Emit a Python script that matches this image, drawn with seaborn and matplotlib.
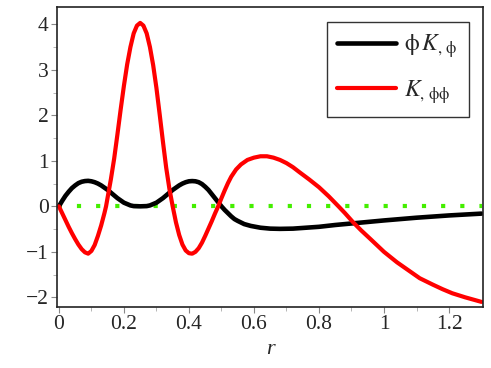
import numpy as np
import pandas as pd
import seaborn as sns
import matplotlib.pyplot as plt

# values
r_black = [0.0, 0.01, 0.02, 0.03, 0.04, 0.05, 0.06, 0.07, 0.08, 0.09, 0.10, 0.11,
           0.12, 0.13, 0.14, 0.15, 0.16, 0.17, 0.18, 0.19, 0.20, 0.21, 0.22, 0.23,
           0.25, 0.27, 0.28, 0.29, 0.30, 0.31, 0.32, 0.33, 0.34, 0.35, 0.36, 0.37,
           0.38, 0.39, 0.40, 0.41, 0.42, 0.43, 0.44, 0.45, 0.46, 0.47, 0.48, 0.49,
           0.50, 0.51, 0.52, 0.53, 0.54, 0.55, 0.57, 0.59, 0.62, 0.65, 0.68, 0.72,
           0.76, 0.80, 0.85, 0.91, 1.0, 1.1, 1.2, 1.3]
phi_k_phi = [0.0, 0.12, 0.23, 0.32, 0.40, 0.46, 0.51, 0.54, 0.555, 0.56, 0.55, 0.53,
             0.50, 0.46, 0.41, 0.36, 0.30, 0.24, 0.18, 0.13, 0.08, 0.05, 0.02, 0.005,
             0.0, 0.005, 0.02, 0.05, 0.08, 0.13, 0.18, 0.24, 0.30, 0.36, 0.41, 0.46,
             0.50, 0.53, 0.55, 0.555, 0.55, 0.53, 0.49, 0.43, 0.36, 0.27, 0.18, 0.09,
             0.0, -0.08, -0.15, -0.22, -0.28, -0.32, -0.39, -0.43, -0.47, -0.49, -0.495, -0.49,
             -0.47, -0.45, -0.41, -0.37, -0.31, -0.25, -0.20, -0.16]

r_red = [0.0, 0.01, 0.02, 0.03, 0.04, 0.05, 0.06, 0.07, 0.08, 0.09, 0.10, 0.11,
         0.12, 0.13, 0.14, 0.145, 0.15, 0.16, 0.17, 0.18, 0.19, 0.20, 0.21, 0.22,
         0.23, 0.24, 0.25, 0.26, 0.27, 0.28, 0.29, 0.30, 0.31, 0.32, 0.33, 0.34,
         0.35, 0.36, 0.37, 0.38, 0.39, 0.40, 0.41, 0.42, 0.43, 0.44, 0.45, 0.46,
         0.47, 0.48, 0.49, 0.50, 0.51, 0.52, 0.53, 0.545, 0.56, 0.58, 0.60, 0.62,
         0.64, 0.66, 0.68, 0.70, 0.72, 0.74, 0.77, 0.80, 0.83, 0.86, 0.88, 0.905,
         0.93, 0.96, 1.0, 1.04, 1.08, 1.11, 1.15, 1.18, 1.21, 1.25, 1.3]
k_phiphi = [0.0, -0.15, -0.30, -0.45, -0.59, -0.72, -0.84, -0.94, -1.01, -1.04, -0.98, -0.85,
            -0.65, -0.42, -0.15, 0.0, 0.2, 0.6, 1.05, 1.58, 2.13, 2.65, 3.12, 3.5,
            3.8, 3.97, 4.03, 3.97, 3.8, 3.5, 3.1, 2.6, 2.02, 1.42, 0.85, 0.38,
            0.0, -0.35, -0.63, -0.84, -0.97, -1.03, -1.04, -1.0, -0.92, -0.8, -0.65, -0.49,
            -0.33, -0.16, 0.0, 0.18, 0.35, 0.51, 0.65, 0.81, 0.92, 1.02, 1.07, 1.1,
            1.1, 1.07, 1.02, 0.95, 0.86, 0.75, 0.59, 0.42, 0.22, 0.0, -0.15, -0.35,
            -0.53, -0.73, -1.0, -1.23, -1.43, -1.58, -1.72, -1.82, -1.91, -2.0, -2.1]

r_zero = [0.0, 1.3]
zero_line = [0.0, 0.0]

sns.set_style('ticks')
plt.rcParams['font.family'] = ['Liberation Serif', 'DejaVu Serif']
plt.rcParams['mathtext.fontset'] = 'stix'

fig = plt.figure(figsize=(4.91, 3.68), dpi=100)
ax = fig.add_axes([0.116, 0.166, 0.868, 0.815])

sns.lineplot(x=r_zero, y=zero_line, ax=ax, color='#44ee00', linewidth=3,
             linestyle=(0.3, (1, 3.6)), dash_capstyle='butt')
sns.lineplot(x=r_black, y=phi_k_phi, ax=ax, color='black', linewidth=3.3,
             label=r'$\mathrm{\phi}\,K_{,\,\mathrm{\phi}}$')
sns.lineplot(x=r_red, y=k_phiphi, ax=ax, color='red', linewidth=3,
             label=r'$K_{,\,\mathrm{\phi\phi}}$')

ax.set_xlim(-0.006, 1.305)
ax.set_ylim(-2.21, 4.38)
ax.set_xticks([0, 0.2, 0.4, 0.6, 0.8, 1.0, 1.2])
ax.set_xticklabels(['0', '0.2', '0.4', '0.6', '0.8', '1', '1.2'])
ax.set_xticks(np.arange(0.1, 1.3, 0.2), minor=True)
ax.set_yticks([-2, -1, 0, 1, 2, 3, 4])
ax.set_yticklabels(['\u22122', '\u22121', '0', '1', '2', '3', '4'])
ax.set_yticks(np.arange(-1.5, 4.0, 1.0), minor=True)
ax.tick_params(which='major', length=4, width=0.8, color='#888888', labelsize=15.5, pad=2)
ax.tick_params(which='minor', length=3, width=0.6, color='#aaaaaa')
for s in ax.spines.values():
    s.set_visible(True)
    s.set_color('#222222')
    s.set_linewidth(1.2)

ax.set_xlabel('r', fontsize=16, fontstyle='italic', labelpad=4)
ax.set_ylabel('')

leg = ax.legend(loc='upper right', bbox_to_anchor=(0.966, 0.95), borderaxespad=0,
                fontsize=17, handlelength=2.5, frameon=True, fancybox=False,
                borderpad=0.45, labelspacing=0.75, handletextpad=0.35)
leg.get_frame().set_edgecolor('black')
leg.get_frame().set_linewidth(1.0)

fig.savefig('out.png', dpi=100)
